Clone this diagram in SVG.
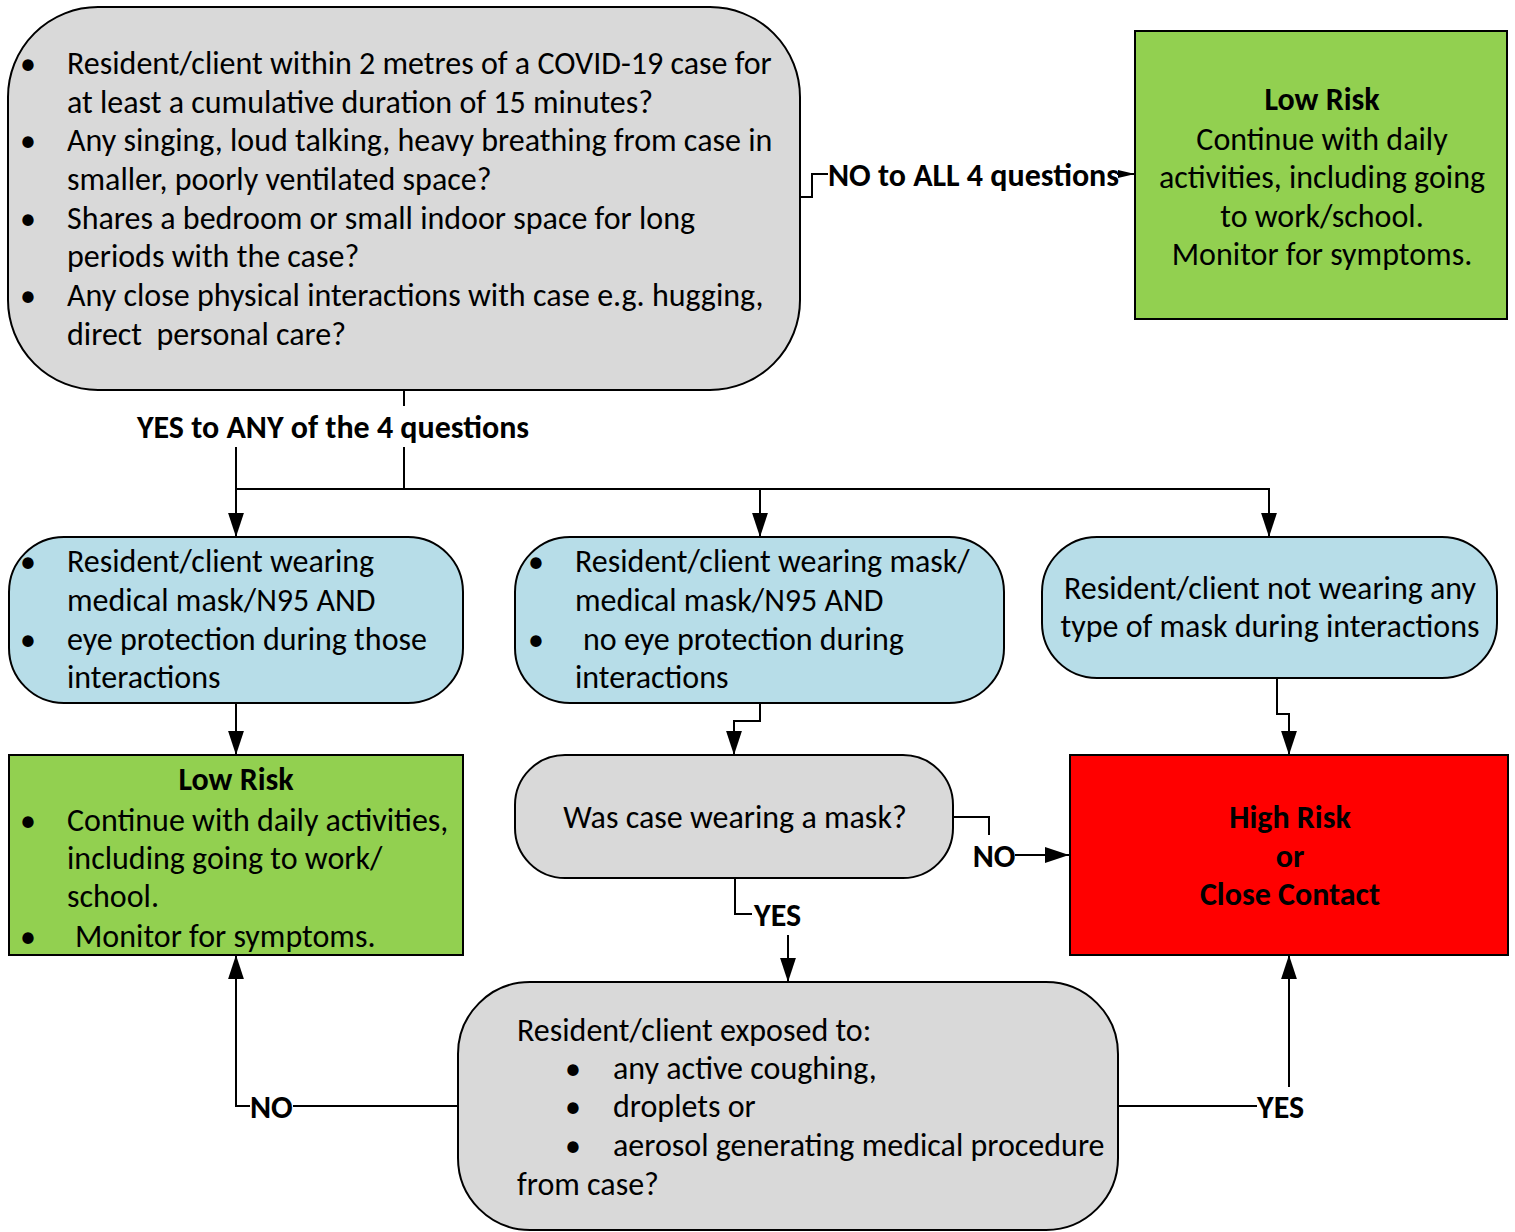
<svg xmlns="http://www.w3.org/2000/svg" width="1515" height="1232" viewBox="0 0 1515 1232">
<style>
text{font-family:Carlito,Calibri,Lato,"Open Sans",sans-serif;font-size:32px;fill:#000}
.b{font-weight:bold}
.c{text-anchor:middle}
.pre{white-space:pre}
.node{stroke:#000;stroke-width:2}
.gray{fill:#d9d9d9}
.blue{fill:#b7dde8}
.green{fill:#92d050}
.red{fill:#ff0000}
.conn{fill:none;stroke:#000;stroke-width:2}
</style>
<defs>
<marker id="ah" viewBox="0 0 10 10" refX="10" refY="5" markerWidth="17" markerHeight="17" markerUnits="userSpaceOnUse" orient="auto">
<path d="M0,2.6 L10,5 L0,7.4 z" fill="#000"/>
</marker>
<marker id="ah2" viewBox="0 0 10 10" refX="10" refY="5" markerWidth="24" markerHeight="24" markerUnits="userSpaceOnUse" orient="auto">
<path d="M0,1.7 L10,5 L0,8.3 z" fill="#000"/>
</marker>
</defs>
<g id="connectors">
<path class="conn" d="M800,197 H812 V174 H828"/>
<path class="conn" d="M1117,174 H1135" marker-end="url(#ah)"/>
<path class="conn" d="M404,390 V406"/>
<path class="conn" d="M404,447 V489"/>
<path class="conn" d="M236,447 V537" marker-end="url(#ah2)"/>
<path class="conn" d="M236,489 H1269 V537" marker-end="url(#ah2)"/>
<path class="conn" d="M760,489 V537" marker-end="url(#ah2)"/>
<path class="conn" d="M236,703 V755" marker-end="url(#ah2)"/>
<path class="conn" d="M760,703 V721 H734 V755" marker-end="url(#ah2)"/>
<path class="conn" d="M1277,678 V714 H1289 V755" marker-end="url(#ah2)"/>
<path class="conn" d="M953,817 H989 V835"/>
<path class="conn" d="M1015,855 H1069" marker-end="url(#ah2)"/>
<path class="conn" d="M735,878 V914 H752"/>
<path class="conn" d="M788,935 V982" marker-end="url(#ah2)"/>
<path class="conn" d="M458,1106 H293"/>
<path class="conn" d="M250,1106 H236 V955" marker-end="url(#ah2)"/>
<path class="conn" d="M1118,1106 H1257"/>
<path class="conn" d="M1289,1087 V955" marker-end="url(#ah2)"/>
<text class="b" x="828" y="186">NO to ALL 4 questions</text>
<text class="b c" x="333" y="438">YES to ANY of the 4 questions</text>
<text class="b c" x="994" y="867">NO</text>
<text class="b" x="754" y="926">YES</text>
<text class="b" x="250" y="1118">NO</text>
<text class="b" x="1257" y="1118">YES</text>
</g>
<g id="n-questions">
<rect class="node gray" x="8" y="7" width="792" height="383" rx="90"/>
<g>
<text x="20" y="74">•</text><text x="67" y="74">Resident/client within 2 metres of a COVID-19 case for</text>
<text x="67" y="113">at least a cumulative duration of 15 minutes?</text>
<text x="20" y="151">•</text><text x="67" y="151">Any singing, loud talking, heavy breathing from case in</text>
<text x="67" y="190">smaller, poorly ventilated space?</text>
<text x="20" y="229">•</text><text x="67" y="229">Shares a bedroom or small indoor space for long</text>
<text x="67" y="267">periods with the case?</text>
<text x="20" y="306">•</text><text x="67" y="306">Any close physical interactions with case e.g. hugging,</text>
<text class="pre" x="67" y="345">direct  personal care?</text>
</g>
</g>
<g id="n-lowrisk-top">
<rect class="node green" x="1135" y="31" width="372" height="288"/>
<text class="b c" x="1322" y="110">Low Risk</text>
<text class="c" x="1322" y="150">Continue with daily</text>
<text class="c" x="1322" y="188">activities, including going</text>
<text class="c" x="1322" y="227">to work/school.</text>
<text class="c" x="1322" y="265">Monitor for symptoms.</text>
</g>
<g id="n-mask-eye">
<rect class="node blue" x="9" y="537" width="454" height="166" rx="55"/>
<text x="20" y="572">•</text><text x="67" y="572">Resident/client wearing</text>
<text x="67" y="611">medical mask/N95 AND</text>
<text x="20" y="650">•</text><text x="67" y="650">eye protection during those</text>
<text x="67" y="688">interactions</text>
</g>
<g id="n-mask-noeye">
<rect class="node blue" x="515" y="537" width="489" height="166" rx="55"/>
<text x="528" y="572">•</text><text x="575" y="572">Resident/client wearing mask/</text>
<text x="575" y="611">medical mask/N95 AND</text>
<text x="528" y="650">•</text><text x="583" y="650">no eye protection during</text>
<text x="575" y="688">interactions</text>
</g>
<g id="n-nomask">
<rect class="node blue" x="1042" y="537" width="455" height="141" rx="55"/>
<text class="c" x="1270" y="599">Resident/client not wearing any</text>
<text class="c" x="1270" y="637">type of mask during interactions</text>
</g>
<g id="n-lowrisk-left">
<rect class="node green" x="9" y="755" width="454" height="200"/>
<text class="b c" x="236" y="790">Low Risk</text>
<text x="20" y="831">•</text><text x="67" y="831">Continue with daily activities,</text>
<text x="67" y="869">including going to work/</text>
<text x="67" y="907">school.</text>
<text x="20" y="947">•</text><text x="75" y="947">Monitor for symptoms.</text>
</g>
<g id="n-casemask">
<rect class="node gray" x="515" y="755" width="438" height="123" rx="50"/>
<text class="c" x="735" y="828">Was case wearing a mask?</text>
</g>
<g id="n-highrisk">
<rect class="node red" x="1070" y="755" width="438" height="200"/>
<text class="b c" x="1290" y="828">High Risk</text>
<text class="b c" x="1290" y="867">or</text>
<text class="b c" x="1290" y="905">Close Contact</text>
</g>
<g id="n-exposed">
<rect class="node gray" x="458" y="982" width="660" height="248" rx="72"/>
<text x="517" y="1041">Resident/client exposed to:</text>
<text x="565" y="1079">•</text><text x="613" y="1079">any active coughing,</text>
<text x="565" y="1117">•</text><text x="613" y="1117">droplets or</text>
<text x="565" y="1156">•</text><text x="613" y="1156">aerosol generating medical procedure</text>
<text x="517" y="1195">from case?</text>
</g>
</svg>
